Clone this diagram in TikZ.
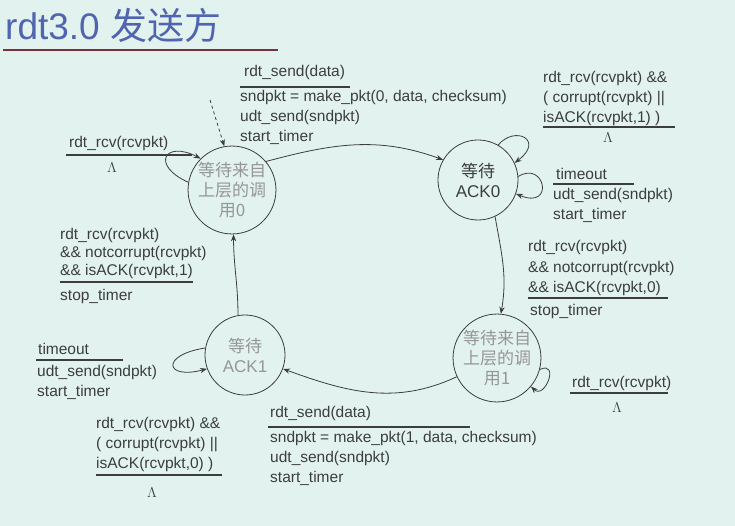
\documentclass[tikz,border=0pt]{standalone}
\usepackage{fontspec}
\setmainfont{Liberation Sans}
\newfontfamily\cjk{Noto Sans CJK SC}
\usetikzlibrary{arrows.meta}
\definecolor{bg}{RGB}{226,242,238}
\definecolor{ink}{RGB}{60,62,62}
\definecolor{ttl}{RGB}{80,100,175}
\definecolor{ul}{RGB}{120,50,60}
\definecolor{stxt}{RGB}{150,150,150}
\begin{document}
\begin{tikzpicture}[x=1pt,y=-1pt,
  st/.style={circle,draw=ink,thick,minimum size=80pt,inner sep=0pt,align=center,font=\cjk\fontsize{17}{20}\selectfont,text=stxt},
  lbl/.style={anchor=base west,align=left,inner sep=0pt,text=ink,font=\fontsize{15.5}{20}\selectfont},
  ar/.style={draw=ink,thick,-{Stealth[length=7pt]}},
  bar/.style={draw=ink,line width=1.3pt}]
\fill[bg] (0,0) rectangle (735,526);
\useasboundingbox (0,0) rectangle (735,526);
\node[anchor=west,inner sep=0pt,text=ttl,font=\fontsize{37}{40}\selectfont] (title) at (5,25) {rdt3.0 {\cjk 发送方}};
\draw[ul,line width=2pt] (3,50) -- (278,50);
% states
\node[st] (s0) at (232,190) {等待来自\\上层的调\\用0};
\node[st,text=ink] (a0) at (478,180) {等待\\\rmfamily ACK0};
\node[st] (a1) at (245,355) {等待\\\rmfamily ACK1};
\node[st] (s1) at (497,358) {等待来自\\上层的调\\用1};
% initial dashed
\coordinate (init) at (210,100);
\draw[ar,dashed] (init) -- (s0.100);
% transitions
\draw[ar] (s0.40) to[out=15,in=160] (a0.150);
\draw[ar] (a0.-65) to[out=-80,in=80] (s1.85);
\draw[ar] (s1.-155) to[out=-155,in=-20] (a1.-20);
\draw[ar] (a1.100) to[out=90,in=-90] (s0.-88);
% self loops
\draw[ar] (s0.170) .. controls (150,165) and (165,140) .. (s0.135);
\draw[ar] (a0.60) .. controls (515,125) and (545,140) .. (a0.25);
\draw[ar] (a0.5) .. controls (545,160) and (555,210) .. (a0.-20);
\draw[ar] (a1.170) .. controls (160,355) and (165,380) .. (a1.200);
\draw[ar] (s1.-15) .. controls (560,360) and (545,400) .. (s1.-40);
% labels
\node[lbl] (l1) at (244,77) {rdt\_send(data)};
\draw[bar] (240,87) -- (350,87);
\node[lbl] (l1b) at (240,142) {sndpkt = make\_pkt(0, data, checksum)\\udt\_send(sndpkt)\\start\_timer};
\node[lbl] (l2) at (69,148) {rdt\_rcv(rcvpkt)};
\draw[bar] (66,155) -- (192,155);
\node[lbl] (l2b) at (107,173) {$\Lambda$};
\node[lbl] (l3) at (543,123) {rdt\_rcv(rcvpkt) \&\&\\( corrupt(rcvpkt) ||\\isACK(rcvpkt,1) )};
\draw[bar] (543,127) -- (675,127);
\node[lbl] (l3b) at (603,143) {$\Lambda$};
\node[lbl] (l4) at (556,180) {timeout};
\draw[bar] (553,184) -- (634,184);
\node[lbl] (l4b) at (553,220) {udt\_send(sndpkt)\\start\_timer};
\node[lbl] (l5) at (528,292) {rdt\_rcv(rcvpkt)\\\&\& notcorrupt(rcvpkt)\\\&\& isACK(rcvpkt,0)};
\draw[bar] (528,298) -- (668,298);
\node[lbl] (l5b) at (530,315) {stop\_timer};
\node[lbl,font=\fontsize{15.5}{18}\selectfont] (l6) at (60,276) {rdt\_rcv(rcvpkt)\\\&\& notcorrupt(rcvpkt)\\\&\& isACK(rcvpkt,1)};
\draw[bar] (60,282) -- (193,282);
\node[lbl] (l6b) at (60,300) {stop\_timer};
\node[lbl] (l7) at (38,354) {timeout};
\draw[bar] (36,360) -- (123,360);
\node[lbl] (l7b) at (37,396) {udt\_send(sndpkt)\\start\_timer};
\node[lbl] (l8) at (572,387) {rdt\_rcv(rcvpkt)};
\draw[bar] (570,393) -- (668,393);
\node[lbl] (l8b) at (612,412) {$\Lambda$};
\node[lbl] (l9) at (270,417) {rdt\_send(data)};
\draw[bar] (268,427) -- (470,427);
\node[lbl] (l9b) at (270,482) {sndpkt = make\_pkt(1, data, checksum)\\udt\_send(sndpkt)\\start\_timer};
\node[lbl] (l10) at (96,468) {rdt\_rcv(rcvpkt) \&\&\\( corrupt(rcvpkt) ||\\isACK(rcvpkt,0) )};
\draw[bar] (96,475) -- (222,475);
\node[lbl] (l10b) at (147,497) {$\Lambda$};
\end{tikzpicture}
\end{document}
